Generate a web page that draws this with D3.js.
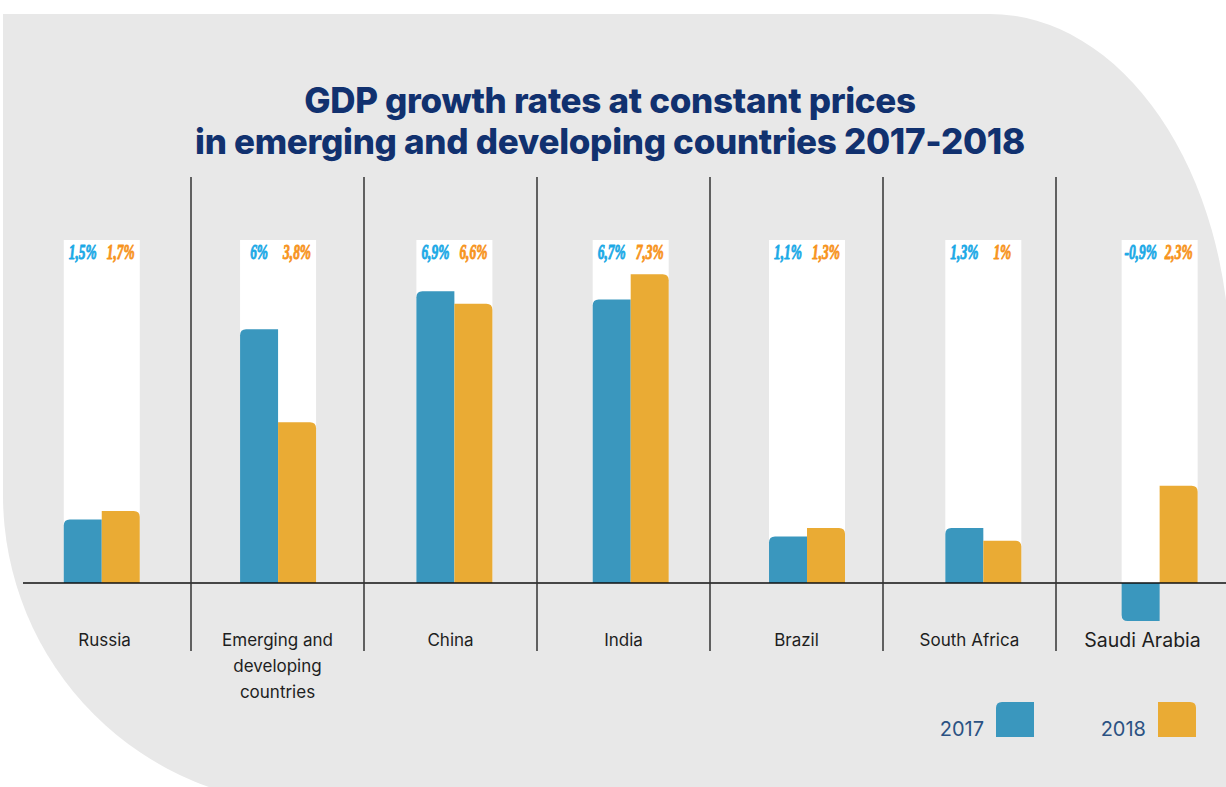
<!DOCTYPE html>
<html>
<head>
<meta charset="utf-8">
<script src="https://cdn.jsdelivr.net/npm/d3@7"></script>
<style>
  html, body { margin: 0; padding: 0; background: #ffffff; }
  svg { display: block; }
</style>
</head>
<body>
<svg id="chart" width="1226" height="787"></svg>
<script>
// GDP growth, % at constant prices
const categories = ["Russia", "Emerging and developing countries", "China", "India", "Brazil", "South Africa", "Saudi Arabia"];
const categoryLines = [["Russia"], ["Emerging and", "developing", "countries"], ["China"], ["India"], ["Brazil"], ["South Africa"], ["Saudi Arabia"]];
const years = ["2017", "2018"];
const values2017 = [1.5, 6.0, 6.9, 6.7, 1.1, 1.3, -0.9];
const values2018 = [1.7, 3.8, 6.6, 7.3, 1.3, 1.0, 2.3];
const valueLabels2017 = ["1,5%", "6%", "6,9%", "6,7%", "1,1%", "1,3%", "-0,9%"];
const valueLabels2018 = ["1,7%", "3,8%", "6,6%", "7,3%", "1,3%", "1%", "2,3%"];
const titleLines = ["GDP growth rates at constant prices", "in emerging and developing countries 2017-2018"];

const W = 1226, H = 787;
const barColor = { "2017": "#3a97be", "2018": "#eaab34" };
const labelColor = { "2017": "#1ba9e6", "2018": "#f7941d" };

const svg = d3.select("#chart");

// soft grey backdrop with large rounded corners top-right and bottom-left
svg.append("path")
  .attr("d", "M3,14 H990 A240,350 0 0 1 1230,364 V805 H313 A310,310 0 0 1 3,495 Z")
  .attr("fill", "#e8e8e8");

// title
svg.append("g").selectAll("text")
  .data(titleLines)
  .join("text")
  .attr("x", 610)
  .attr("y", (d, i) => 113 + i * 41)
  .attr("text-anchor", "middle")
  .attr("font-family", "Inter, 'Noto Sans', sans-serif")
  .attr("font-weight", 800)
  .attr("font-size", 35)
  .attr("letter-spacing", -0.3)
  .attr("fill", "#11316f")
  .text(d => d);

// columns (labels + separators) and bar groups
const xCol = d3.scaleBand().domain(categories).range([18, 1229]);
const xGroup = d3.scaleBand().domain(categories).range([13.6, 1247.8])
  .paddingInner(0.569).paddingOuter(0.2845);
const xYear = d3.scaleBand().domain(years).range([0, xGroup.bandwidth()]);
const y = d3.scaleLinear().domain([-1, 8]).range([583 + 42.3, 583 - 8 * 42.3]);

const panelTop = 240;

// white panels behind each pair of bars
svg.append("g").selectAll("rect")
  .data(categories)
  .join("rect")
  .attr("x", d => xGroup(d))
  .attr("y", panelTop)
  .attr("width", xGroup.bandwidth())
  .attr("height", y(0) - panelTop)
  .attr("fill", "#ffffff");

// bar with a single rounded outer corner
function barPath(x, w, v, year) {
  const r = Math.min(6, Math.abs(y(v) - y(0)));
  const y0 = y(0), y1 = y(v);
  if (v >= 0) {
    if (year === "2017") {
      return `M${x},${y0} V${y1 + r} Q${x},${y1} ${x + r},${y1} H${x + w} V${y0} Z`;
    }
    return `M${x},${y0} V${y1} H${x + w - r} Q${x + w},${y1} ${x + w},${y1 + r} V${y0} Z`;
  }
  if (year === "2017") {
    return `M${x},${y0} V${y1 - r} Q${x},${y1} ${x + r},${y1} H${x + w} V${y0} Z`;
  }
  return `M${x},${y0} V${y1} H${x + w - r} Q${x + w},${y1} ${x + w},${y1 - r} V${y0} Z`;
}

const rows = categories.map((c, i) => ({
  cat: c,
  bars: [
    { year: "2017", v: values2017[i], label: valueLabels2017[i] },
    { year: "2018", v: values2018[i], label: valueLabels2018[i] }
  ]
}));

const groups = svg.append("g").selectAll("g")
  .data(rows)
  .join("g")
  .attr("transform", d => `translate(${xGroup(d.cat)},0)`);

groups.selectAll("path")
  .data(d => d.bars)
  .join("path")
  .attr("d", d => barPath(xYear(d.year), xYear.bandwidth(), d.v, d.year))
  .attr("fill", d => barColor[d.year]);

// value labels in a condensed heavy italic face
groups.selectAll("g.val")
  .data(d => d.bars)
  .join("g")
  .attr("class", "val")
  .attr("transform", d => `translate(${xYear(d.year) + xYear.bandwidth() / 2},259) scale(0.64,1)`)
  .append("text")
  .attr("text-anchor", "middle")
  .attr("font-family", "'Liberation Serif', 'DejaVu Serif', serif")
  .attr("font-style", "italic")
  .attr("font-weight", 700)
  .attr("font-size", 21)
  .attr("fill", d => labelColor[d.year])
  .attr("stroke", d => labelColor[d.year])
  .attr("stroke-width", 0.9)
  .attr("stroke-linejoin", "round")
  .text(d => d.label);

// zero baseline
svg.append("line")
  .attr("x1", 23).attr("x2", W)
  .attr("y1", y(0)).attr("y2", y(0))
  .attr("stroke", "#111").attr("stroke-width", 1.6);

// column separators
svg.append("g").selectAll("line")
  .data(categories.slice(1))
  .join("line")
  .attr("x1", d => xCol(d)).attr("x2", d => xCol(d))
  .attr("y1", 177).attr("y2", 651)
  .attr("stroke", "#333").attr("stroke-width", 1.5);

// category labels
svg.append("g").selectAll("text")
  .data(categories)
  .join("text")
  .attr("x", d => xCol(d) + xCol.bandwidth() / 2)
  .attr("y", d => d === "Saudi Arabia" ? 647 : 646)
  .attr("text-anchor", "middle")
  .attr("font-family", "Inter, 'Noto Sans', sans-serif")
  .attr("font-size", d => d === "Saudi Arabia" ? 19.5 : 17)
  .attr("fill", "#1e1e1e")
  .selectAll("tspan")
  .data((d, i) => categoryLines[i].map(t => ({ t, x: xCol(d) + xCol.bandwidth() / 2 })))
  .join("tspan")
  .attr("x", d => d.x)
  .attr("dy", (d, i) => i === 0 ? 0 : 26)
  .text(d => d.t);

// legend
const legendX = d3.scaleOrdinal().domain(years).range([996, 1158]);
const legend = svg.append("g").selectAll("g")
  .data(years)
  .join("g")
  .attr("transform", d => `translate(${legendX(d)},702)`);
legend.append("path")
  .attr("d", d => d === "2017"
    ? "M0,35 V6 Q0,0 6,0 H38 V35 Z"
    : "M0,35 V0 H32 Q38,0 38,6 V35 Z")
  .attr("fill", d => barColor[d]);
legend.append("text")
  .attr("x", -12)
  .attr("y", 34)
  .attr("text-anchor", "end")
  .attr("font-family", "Inter, 'Noto Sans', sans-serif")
  .attr("font-size", 20)
  .attr("fill", "#2b5283")
  .text(d => d);
</script>
</body>
</html>
